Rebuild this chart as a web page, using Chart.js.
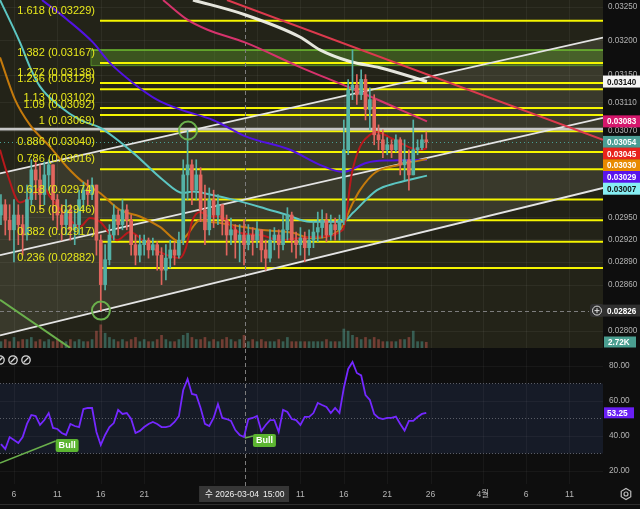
<!DOCTYPE html>
<html>
<head>
<meta charset="utf-8">
<script src="https://cdn.jsdelivr.net/npm/chart.js@4.4.1/dist/chart.umd.min.js"></script>
<style>
  html, body { margin:0; padding:0; background:#0e0e0e; width:640px; height:509px; overflow:hidden; }
  #pw { position:absolute; left:0; top:0; width:640px; height:348px; }
  #rw { position:absolute; left:0; top:349px; width:640px; height:160px; }
</style>
</head>
<body>
<div id="pw"><canvas id="priceChart"></canvas></div>
<div id="rw"><canvas id="rsiChart"></canvas></div>
<script>
// ================= DATA (days counted from 2026-02-01 00:00) =================
const candleStartDay = 3.5;     // 12h candles
const candleStepDay = 0.5;
const firstOpen = 0.02953;
const closes = [
  0.02967,0.02946,0.02933,0.02953,0.02940,0.02926,0.02974,0.03015,0.03001,0.02981,
  0.03008,0.03022,0.02974,0.02953,0.02940,0.02960,0.02933,0.02940,0.02974,0.02987,
  0.02981,0.02994,0.02919,0.02860,0.02893,0.02926,0.02953,0.02940,0.02960,0.02946,
  0.02913,0.02899,0.02913,0.02919,0.02906,0.02913,0.02899,0.02879,0.02895,0.02906,
  0.02899,0.02919,0.03008,0.03022,0.02987,0.03008,0.02960,0.02933,0.02974,0.02953,
  0.02967,0.02946,0.02926,0.02933,0.02919,0.02926,0.02913,0.02926,0.02919,0.02933,
  0.02906,0.02895,0.02919,0.02926,0.02913,0.02933,0.02953,0.02919,0.02913,0.02922,
  0.02909,0.02919,0.02930,0.02936,0.02946,0.02926,0.02940,0.02933,0.02946,0.03043,
  0.03128,0.03135,0.03121,0.03143,0.03100,0.03114,0.03064,0.03057,0.03043,0.03050,
  0.03043,0.03057,0.03022,0.03029,0.03008,0.03043,0.03046,0.03057,0.03054
];
const highs = [
  0.02981,0.02974,0.02967,0.02974,0.02967,0.02953,0.02994,0.03029,0.03029,0.03022,
  0.03026,0.03029,0.03022,0.02981,0.02967,0.02974,0.02967,0.02960,0.02987,0.02998,
  0.03001,0.03004,0.02994,0.02926,0.02913,0.02940,0.02967,0.02960,0.02974,0.02967,
  0.02953,0.02926,0.02926,0.02926,0.02922,0.02922,0.02917,0.02909,0.02913,0.02919,
  0.02917,0.02930,0.03029,0.03070,0.03029,0.03029,0.03018,0.02994,0.02990,0.02987,
  0.02981,0.02967,0.02953,0.02949,0.02940,0.02940,0.02946,0.02940,0.02936,0.02944,
  0.02933,0.02919,0.02933,0.02936,0.02933,0.02953,0.02963,0.02957,0.02930,0.02936,
  0.02930,0.02933,0.02944,0.02957,0.02960,0.02955,0.02953,0.02949,0.02953,0.03085,
  0.03143,0.03186,0.03150,0.03157,0.03150,0.03131,0.03121,0.03078,0.03071,0.03060,
  0.03057,0.03064,0.03060,0.03057,0.03043,0.03085,0.03057,0.03064,0.03068
];
const lows = [
  0.02940,0.02926,0.02919,0.02890,0.02913,0.02899,0.02919,0.02967,0.02974,0.02960,
  0.02967,0.02987,0.02946,0.02933,0.02919,0.02926,0.02919,0.02913,0.02926,0.02960,
  0.02967,0.02974,0.02899,0.02826,0.02853,0.02886,0.02919,0.02926,0.02933,0.02933,
  0.02899,0.02886,0.02890,0.02899,0.02895,0.02899,0.02879,0.02860,0.02866,0.02882,
  0.02886,0.02895,0.02913,0.02974,0.02967,0.02974,0.02944,0.02913,0.02926,0.02936,
  0.02940,0.02926,0.02899,0.02913,0.02895,0.02890,0.02886,0.02906,0.02899,0.02909,
  0.02890,0.02879,0.02890,0.02906,0.02895,0.02906,0.02919,0.02903,0.02895,0.02899,
  0.02890,0.02899,0.02909,0.02917,0.02922,0.02917,0.02919,0.02919,0.02919,0.02940,
  0.03036,0.03114,0.03107,0.03114,0.03085,0.03071,0.03050,0.03043,0.03032,0.03036,
  0.03032,0.03040,0.03008,0.03001,0.02987,0.03008,0.03036,0.03043,0.03046
];
const volumesK = [
  3,4,3,5,3,4,4,5,3,4,
  3,4,3,4,3,3,4,3,4,3,
  3,4,8,11,7,5,4,3,4,3,
  4,5,3,4,3,3,4,6,4,3,
  3,4,6,7,5,4,4,5,3,4,
  3,4,5,4,3,4,6,3,4,3,
  4,3,3,3,4,3,5,3,3,3,
  3,3,3,3,3,4,3,3,3,9,
  8,6,5,4,5,4,5,4,3,3,
  3,3,4,4,5,8,3,3,2.72
];
const rsiValues = [
  35.4,32.6,39.4,37.7,36.0,39.4,46.9,52.0,51.4,46.3,
  49.1,53.1,44.6,44.0,41.7,40.6,46.9,45.7,45.1,55.4,
  56.0,56.0,42.3,34.9,40.6,45.1,47.4,54.9,52.6,53.1,
  49.7,41.7,42.9,45.1,46.9,48.0,46.9,45.1,45.1,45.7,
  48.0,51.4,66.3,72.6,64.0,63.4,56.0,46.9,45.7,50.3,
  58.3,50.3,49.7,48.6,43.4,40.6,39.4,49.7,50.3,51.4,
  42.9,46.3,49.1,49.1,42.3,54.9,53.7,49.7,49.1,46.3,
  50.9,50.9,53.1,58.9,57.7,56.6,53.1,56.0,53.1,67.4,
  78.3,82.3,76.0,74.6,63.4,60.6,52.6,50.3,49.7,50.3,
  50.3,51.1,46.9,43.1,48.6,48.6,50.9,52.6,53.25
];

// moving averages: [day, price]
const emaRed = [[3.39,0.03043],[4.19,0.03011],[5.69,0.02970],[6.50,0.02974],[8.34,0.02992],[9.15,0.02978],[11.11,0.02951],[12.60,0.02937],[13.76,0.02949],[14.91,0.02944],[16.87,0.02919],[18.36,0.02930],[20.67,0.02910],[22.63,0.02899],[24.12,0.02895],[24.81,0.02909],[25.51,0.02944],[26.43,0.02957],[27.58,0.02951],[28.73,0.02951],[31.04,0.02929],[33.34,0.02926],[35.65,0.02919],[37.95,0.02922],[40.25,0.02924],[42.90,0.02933],[43.94,0.03011],[44.86,0.03047],[46.01,0.03064],[46.82,0.03068],[48.32,0.03060],[49.47,0.03053],[50.62,0.03046],[51.77,0.03043],[52.58,0.03045]];
const emaOrange = [[3.39,0.03175],[5.12,0.03114],[6.84,0.03078],[9.15,0.03047],[11.11,0.03019],[12.95,0.02998],[14.91,0.02983],[17.21,0.02960],[19.52,0.02951],[21.82,0.02937],[24.12,0.02917],[24.93,0.02926],[26.43,0.02946],[27.58,0.02944],[29.88,0.02940],[33.34,0.02933],[37.14,0.02929],[39.10,0.02922],[42.56,0.02933],[43.94,0.02967],[44.86,0.02987],[46.59,0.03011],[49.47,0.03022],[52.58,0.03030]];
const emaCyan = [[3.39,0.03260],[5.69,0.03197],[6.84,0.03161],[7.99,0.03133],[10.30,0.03104],[12.60,0.03085],[14.91,0.03074],[18.71,0.03039],[22.17,0.03001],[24.47,0.02983],[25.62,0.02985],[27.58,0.02981],[30.23,0.02974],[33.34,0.02964],[36.45,0.02953],[39.10,0.02944],[42.90,0.02944],[44.05,0.02956],[46.82,0.02987],[49.12,0.02997],[52.58,0.03007]];
const emaPurple = [[8.23,0.03260],[11.11,0.03231],[14.10,0.03197],[16.06,0.03167],[18.71,0.03138],[21.47,0.03114],[24.12,0.03100],[27.92,0.03085],[31.84,0.03061],[36.80,0.03043],[40.25,0.03022],[42.90,0.03012],[45.67,0.03025],[47.97,0.03028],[52.58,0.03029]];
const maWhite = [[25.62,0.03260],[31.61,0.03238],[37.95,0.03205],[40.25,0.03186],[43.71,0.03169],[47.17,0.03160],[52.58,0.03140]];
const maPink = [[22.17,0.03260],[24.93,0.03231],[27.23,0.03216],[31.61,0.03197],[37.95,0.03161],[43.71,0.03131],[52.58,0.03083]];

// drawn trend lines: [day, price]
const resistLine = [[29.54,0.03260],[72.86,0.03057]];
const chanUpper = [[3.39,0.03010],[72.86,0.03204]];
const chanMiddle = [[3.39,0.02899],[72.86,0.03088]];
const chanLower = [[3.39,0.02794],[72.86,0.02990]];
const greenLine = [[3.39,0.02840],[11.46,0.02778]];

// fibonacci extension
const fibRatios = ['1.618','1.382','1.272','1.236','1.13','1.09','1','0.886','0.786','0.618','0.5','0.382','0.236'];
const fibPrices = [0.03229,0.03167,0.03138,0.03129,0.03102,0.03092,0.03069,0.03040,0.03016,0.02974,0.02946,0.02917,0.02882];
const fibStartDay = 14.91;
const zoneStartDay = 13.87, zoneTop = 0.03186, zoneBottom = 0.03163;
const levelLine = 0.03072;
const crossPrice = 0.02826, crossDay = 31.625;
const circleMarks = [[25.05,0.03070],[15.02,0.02826]];

// RSI divergence marks: [day, rsi]
const bullFrom = [[3.39,24.6],[31.6,38.9]];
const bullTo = [[9.80,37.1],[32.53,40.0]];

// axes
const priceTicks = [0.0325,0.032,0.0315,0.0311,0.0307,0.0295,0.0292,0.0289,0.0286,0.028];
const rsiTicks = [80,60,40,20];
const gridDays = [5,10,15,20,28,33,38,43,48,53,59,64,69];
const xTickDays = [5,10,15,20,38,43,48,53,59,64,69];
const xTickLabels = ['6','11','16','21','11','16','21','26','4월','6','11'];
const crossLabelDate = '수 2026-03-04', crossLabelTime = '15:00';

// ================= RENDER =================
const X_MIN = 3.39, X_MAX = 72.86;
const P_MIN = 0.027778, P_MAX = 0.0326;
const R_MIN = 12.57, R_MAX = 89.14;
const FONT = '"Liberation Sans","Noto Sans CJK KR",Arial,sans-serif';

const candleDays = closes.map((_, i) => candleStartDay + i * candleStepDay);
const opens = closes.map((_, i) => i === 0 ? firstOpen : closes[i - 1]);
const UP = '#54b1a6', DOWN = '#e1655e';
const candleColors = closes.map((c, i) => c >= opens[i] ? UP : DOWN);
const volColors = closes.map((c, i) => c >= opens[i] ? 'rgba(84,177,166,0.42)' : 'rgba(225,101,94,0.42)');

function txt(ctx, s, x, y, size, color, o) {
  o = o || {};
  ctx.save();
  ctx.font = (o.bold ? 'bold ' : '') + size + 'px ' + FONT;
  ctx.fillStyle = color;
  ctx.textBaseline = 'middle';
  ctx.textAlign = o.align || 'left';
  ctx.translate(x, y);
  ctx.scale(o.sx || 1, 1);
  ctx.fillText(s, 0, 0);
  ctx.restore();
}
function seg(ctx, x1, y1, x2, y2) { ctx.beginPath(); ctx.moveTo(x1, y1); ctx.lineTo(x2, y2); ctx.stroke(); }
function rrect(ctx, x, y, w, h, r) {
  ctx.beginPath(); ctx.moveTo(x + r, y);
  ctx.arcTo(x + w, y, x + w, y + h, r); ctx.arcTo(x + w, y + h, x, y + h, r);
  ctx.arcTo(x, y + h, x, y, r); ctx.arcTo(x, y, x + w, y, r); ctx.closePath();
}
const pts = arr => arr.map(p => ({ x: p[0], y: p[1] }));
function lineDs(arr, color, width, order, smooth) {
  const d = { type: 'line', data: pts(arr), borderColor: color, borderWidth: width, pointRadius: 0,
    fill: false, order: order, yAxisID: 'y', xAxisID: 'x' };
  if (smooth) d.cubicInterpolationMode = 'monotone';
  return d;
}

const pricePlugin = {
  id: 'pricePlugin',
  beforeDraw(chart) {
    const { ctx, chartArea: a } = chart;
    ctx.save();
    ctx.fillStyle = '#0e0e0e'; ctx.fillRect(0, 0, chart.width, chart.height);
    ctx.fillStyle = '#232318'; ctx.fillRect(a.left, a.top, a.right - a.left, a.bottom - a.top);
    ctx.restore();
  },
  beforeDatasetsDraw(chart) {
    const { ctx, chartArea: a, scales } = chart;
    const X = d => scales.x.getPixelForValue(d), Y = v => scales.y.getPixelForValue(v);
    ctx.save();
    ctx.beginPath(); ctx.rect(a.left, a.top, a.right - a.left, a.bottom - a.top); ctx.clip();
    // channel fill
    ctx.fillStyle = 'rgba(205,205,175,0.13)';
    ctx.beginPath();
    ctx.moveTo(X(chanUpper[0][0]), Y(chanUpper[0][1]));
    ctx.lineTo(X(chanUpper[1][0]), Y(chanUpper[1][1]));
    ctx.lineTo(X(chanLower[1][0]), Y(chanLower[1][1]));
    ctx.lineTo(X(chanLower[0][0]), Y(chanLower[0][1]));
    ctx.closePath(); ctx.fill();
    // grid
    ctx.strokeStyle = 'rgba(255,255,255,0.05)'; ctx.lineWidth = 1;
    gridDays.forEach(d => { const x = Math.round(X(d)) + 0.5; seg(ctx, x, a.top, x, a.bottom); });
    priceTicks.forEach(v => { const y = Math.round(Y(v)) + 0.5; seg(ctx, a.left, y, a.right, y); });
    // green zone
    const zx = X(zoneStartDay), zt = Y(zoneTop), zb = Y(zoneBottom);
    ctx.fillStyle = 'rgba(88,145,40,0.45)';
    ctx.fillRect(zx, zt, a.right - zx, zb - zt);
    ctx.strokeStyle = '#6fbf30'; ctx.lineWidth = 1.5;
    seg(ctx, zx, zt, a.right, zt);
    ctx.strokeStyle = 'rgba(111,191,48,0.6)'; ctx.lineWidth = 1;
    seg(ctx, zx, zb, a.right, zb); seg(ctx, zx, zt, zx, zb);
    // fib lines
    ctx.strokeStyle = '#f5f500'; ctx.lineWidth = 2;
    fibPrices.forEach(v => { const y = Y(v); seg(ctx, X(fibStartDay), y, a.right, y); });
    // level line
    ctx.strokeStyle = '#c6c6c6'; ctx.lineWidth = 2.8;
    seg(ctx, a.left, Y(levelLine), a.right, Y(levelLine));
    // last price dotted
    ctx.lineWidth = 1;
    ctx.setLineDash([1, 3]); ctx.strokeStyle = '#4a9e94';
    const ly = Math.round(Y(closes[closes.length - 1])) + 0.5;
    seg(ctx, a.left, ly, a.right, ly);
    // crosshair
    ctx.setLineDash([4, 3]); ctx.strokeStyle = '#7d7d7d';
    const cy = Math.round(Y(crossPrice)) + 0.5;
    seg(ctx, a.left, cy, a.right - 14, cy);
    const cx = Math.round(X(crossDay)) + 0.5;
    seg(ctx, cx, a.top, cx, a.bottom);
    ctx.restore();
  },
  afterDatasetsDraw(chart) {
    const { ctx, scales } = chart;
    const X = d => scales.x.getPixelForValue(d), Y = v => scales.y.getPixelForValue(v);
    ctx.save();
    ctx.strokeStyle = '#6ab04c'; ctx.lineWidth = 2;
    circleMarks.forEach(c => { ctx.beginPath(); ctx.arc(X(c[0]), Y(c[1]), 9, 0, Math.PI * 2); ctx.stroke(); });
    fibPrices.forEach((v, i) => {
      txt(ctx, fibRatios[i] + ' (' + v.toFixed(5) + ')', 95, Y(v) - 10, 11, '#e8e81c', { align: 'right' });
    });
    ctx.restore();
  },
  afterDraw(chart) {
    const { ctx, chartArea: a, scales } = chart;
    const Y = v => scales.y.getPixelForValue(v);
    ctx.save();
    priceTicks.forEach(v => txt(ctx, v.toFixed(5), 608, Y(v), 9, '#b4b4b4', { sx: 0.9 }));
    const badges = [
      { v: maWhite[maWhite.length - 1][1], bg: '#f4f4f4', fg: '#111' },
      { v: maPink[maPink.length - 1][1], bg: '#d5176c', fg: '#fff' },
      { v: closes[closes.length - 1], bg: '#4a9e94', fg: '#fff' },
      { v: emaRed[emaRed.length - 1][1], bg: '#e8231c', fg: '#fff' },
      { v: emaOrange[emaOrange.length - 1][1], bg: '#e88a00', fg: '#fff' },
      { v: emaPurple[emaPurple.length - 1][1], bg: '#5a14ec', fg: '#fff' },
      { v: emaCyan[emaCyan.length - 1][1], bg: '#86eef4', fg: '#111' }
    ].map(b => Object.assign(b, { y: Y(b.v) })).sort((p, q) => p.y - q.y);
    let prev = -100;
    badges.forEach(b => {
      const c = Math.max(b.y, prev + 11.7); prev = c;
      ctx.fillStyle = b.bg; ctx.fillRect(603, c - 6, 37, 12);
      txt(ctx, b.v.toFixed(5), 607, c + 0.5, 9, b.fg, { bold: true, sx: 0.9 });
    });
    // crosshair price badge
    const cy = Y(crossPrice);
    ctx.fillStyle = '#303030';
    rrect(ctx, 590, cy - 6.5, 14, 13, 3); ctx.fill();
    ctx.fillRect(603, cy - 6, 37, 12);
    ctx.strokeStyle = '#dddddd'; ctx.lineWidth = 1;
    ctx.beginPath(); ctx.arc(597, cy, 4.5, 0, Math.PI * 2); ctx.stroke();
    seg(ctx, 594.5, cy, 599.5, cy); seg(ctx, 597, cy - 2.5, 597, cy + 2.5);
    txt(ctx, crossPrice.toFixed(5), 607, cy + 0.5, 9, '#fff', { bold: true, sx: 0.9 });
    // volume badge
    const vy = Math.min(scales.vol.getPixelForValue(volumesK[volumesK.length - 1]), a.bottom - 6);
    ctx.fillStyle = '#4a9e90'; ctx.fillRect(604, vy - 5.5, 32, 11);
    txt(ctx, volumesK[volumesK.length - 1].toFixed(2) + 'K', 608, vy + 0.5, 9, '#fff', { bold: true, sx: 0.9 });
    ctx.restore();
  }
};

const priceChart = new Chart(document.getElementById('priceChart'), {
  type: 'line',
  data: {
    datasets: [
      { type: 'bar', data: candleDays.map((d, i) => ({ x: d, y: volumesK[i] })), backgroundColor: volColors,
        barThickness: 2, grouped: false, yAxisID: 'vol', xAxisID: 'x', order: 30 },
      lineDs(chanUpper, '#e4e4e4', 1.8, 25),
      lineDs(chanMiddle, '#e4e4e4', 1.8, 25),
      lineDs(chanLower, '#e4e4e4', 1.8, 25),
      lineDs(greenLine, '#6ab04c', 2, 24),
      lineDs(resistLine, '#dc3a4d', 2, 23),
      lineDs(emaCyan, '#5cc6c2', 2, 12, true),
      lineDs(emaPurple, '#5212e2', 2, 12, true),
      lineDs(maPink, '#d6336c', 2, 12, true),
      lineDs(maWhite, 'rgba(246,246,238,0.92)', 3, 12, true),
      lineDs(emaOrange, '#c47a0c', 2, 11, true),
      lineDs(emaRed, '#b8191c', 2, 10, true),
      { type: 'bar', data: candleDays.map((d, i) => ({ x: d, y: [lows[i], highs[i]] })), backgroundColor: candleColors,
        barThickness: 1, grouped: false, yAxisID: 'y', xAxisID: 'x', order: 2 },
      { type: 'bar', data: candleDays.map((d, i) => ({ x: d, y: [opens[i], closes[i]] })), backgroundColor: candleColors,
        barThickness: 3, minBarLength: 1, grouped: false, yAxisID: 'y', xAxisID: 'x', order: 1 }
    ]
  },
  options: {
    animation: false, responsive: true, maintainAspectRatio: false, devicePixelRatio: 1, events: [],
    layout: { padding: 0 },
    plugins: { legend: { display: false }, tooltip: { enabled: false } },
    scales: {
      x: { type: 'linear', min: X_MIN, max: X_MAX, display: false, offset: false, bounds: 'data' },
      y: { type: 'logarithmic', position: 'right', min: P_MIN, max: P_MAX, bounds: 'data',
           grid: { display: false }, border: { display: false }, ticks: { display: false },
           afterFit: s => { s.width = 37; } },
      vol: { type: 'linear', position: 'left', min: 0, max: 165, display: false }
    }
  },
  plugins: [pricePlugin]
});

const rsiPlugin = {
  id: 'rsiPlugin',
  beforeDraw(chart) {
    const { ctx } = chart;
    ctx.save(); ctx.fillStyle = '#0e0e0e'; ctx.fillRect(0, 0, chart.width, chart.height); ctx.restore();
  },
  beforeDatasetsDraw(chart) {
    const { ctx, chartArea: a, scales } = chart;
    const X = d => scales.x.getPixelForValue(d), Y = v => scales.y.getPixelForValue(v);
    ctx.save();
    ctx.fillStyle = '#161b27';
    ctx.fillRect(a.left, Y(70), a.right - a.left, Y(30) - Y(70));
    ctx.strokeStyle = 'rgba(255,255,255,0.045)'; ctx.lineWidth = 1;
    gridDays.forEach(d => { const x = Math.round(X(d)) + 0.5; seg(ctx, x, a.top, x, a.bottom); });
    rsiTicks.forEach(v => { const y = Math.round(Y(v)) + 0.5; seg(ctx, a.left, y, a.right, y); });
    ctx.strokeStyle = '#5a5d66'; ctx.setLineDash([1, 2]);
    [70, 50, 30].forEach(v => { const y = Math.round(Y(v)) + 0.5; seg(ctx, a.left, y, a.right, y); });
    ctx.setLineDash([4, 3]); ctx.strokeStyle = '#7d7d7d';
    const cx = Math.round(X(crossDay)) + 0.5;
    seg(ctx, cx, 0, cx, 137);
    ctx.restore();
  },
  afterDatasetsDraw(chart) {
    const { ctx, scales } = chart;
    const X = d => scales.x.getPixelForValue(d), Y = v => scales.y.getPixelForValue(v);
    ctx.save();
    ctx.strokeStyle = '#6ab04c'; ctx.lineWidth = 1.5;
    bullFrom.forEach((f, i) => {
      const t = bullTo[i];
      seg(ctx, X(f[0]), Y(f[1]), X(t[0]), Y(t[1]));
    });
    bullTo.forEach(t => {
      const bx = X(t[0]), by = Y(t[1]) - 2;
      ctx.fillStyle = '#5cb531'; rrect(ctx, bx, by, 23, 13, 2); ctx.fill();
      txt(ctx, 'Bull', bx + 11.5, by + 6.8, 9.5, '#ffffff', { bold: true, align: 'center', sx: 0.95 });
    });
    ctx.restore();
  },
  afterDraw(chart) {
    const { ctx, chartArea: a, scales } = chart;
    const X = d => scales.x.getPixelForValue(d), Y = v => scales.y.getPixelForValue(v);
    ctx.save();
    rsiTicks.forEach(v => txt(ctx, v.toFixed(2), 609, Y(v), 9, '#b4b4b4', { sx: 0.92 }));
    const last = rsiValues[rsiValues.length - 1];
    const ry = Y(last);
    ctx.fillStyle = '#6a1ff5'; ctx.fillRect(604, ry - 5.5, 30, 11);
    txt(ctx, last.toFixed(2), 607, ry + 0.5, 9, '#fff', { bold: true, sx: 0.92 });
    // hidden-indicator icons
    ctx.strokeStyle = '#d8d8d8'; ctx.lineWidth = 1.3;
    [0, 13, 26].forEach(x => {
      ctx.beginPath(); ctx.arc(x, 11, 4.2, 0, Math.PI * 2); ctx.stroke();
      seg(ctx, x - 2.5, 13.5, x + 2.5, 8.5);
    });
    // x axis labels
    xTickDays.forEach((d, i) => txt(ctx, xTickLabels[i], X(d), 145, 9.5, '#b4b4b4', { align: 'center', sx: 0.9 }));
    // crosshair time label
    const cx = X(crossDay);
    ctx.fillStyle = '#363636'; ctx.fillRect(cx - 46, 137, 90, 16);
    txt(ctx, crossLabelDate, cx - 40, 145.5, 9.5, '#f0f0f0', { sx: 0.9 });
    txt(ctx, crossLabelTime, cx + 18, 145.5, 9.5, '#f0f0f0', { sx: 0.9 });
    // settings icon
    ctx.strokeStyle = '#bdbdbd'; ctx.lineWidth = 1.2;
    ctx.beginPath();
    for (let k = 0; k < 6; k++) {
      const ang = Math.PI / 6 + k * Math.PI / 3;
      const px = 626 + 5.5 * Math.cos(ang), py = 145 + 5.5 * Math.sin(ang);
      if (k === 0) ctx.moveTo(px, py); else ctx.lineTo(px, py);
    }
    ctx.closePath(); ctx.stroke();
    ctx.beginPath(); ctx.arc(626, 145, 2, 0, Math.PI * 2); ctx.stroke();
    // bottom border
    ctx.strokeStyle = '#2e2e2e'; ctx.lineWidth = 1;
    seg(ctx, 0, 155.5, chart.width, 155.5);
    ctx.restore();
  }
};

const rsiChart = new Chart(document.getElementById('rsiChart'), {
  type: 'line',
  data: {
    datasets: [{ data: candleDays.map((d, i) => ({ x: d, y: rsiValues[i] })), borderColor: '#7428ff',
      borderWidth: 1.8, pointRadius: 0, tension: 0, fill: false }]
  },
  options: {
    animation: false, responsive: true, maintainAspectRatio: false, devicePixelRatio: 1, events: [],
    layout: { padding: { top: 1, bottom: 25, left: 0, right: 0 } },
    plugins: { legend: { display: false }, tooltip: { enabled: false } },
    scales: {
      x: { type: 'linear', min: X_MIN, max: X_MAX, display: false, offset: false, bounds: 'data' },
      y: { type: 'linear', position: 'right', min: R_MIN, max: R_MAX, bounds: 'data',
           grid: { display: false }, border: { display: false }, ticks: { display: false },
           afterFit: s => { s.width = 37; } }
    }
  },
  plugins: [rsiPlugin]
});
</script>
</body>
</html>
